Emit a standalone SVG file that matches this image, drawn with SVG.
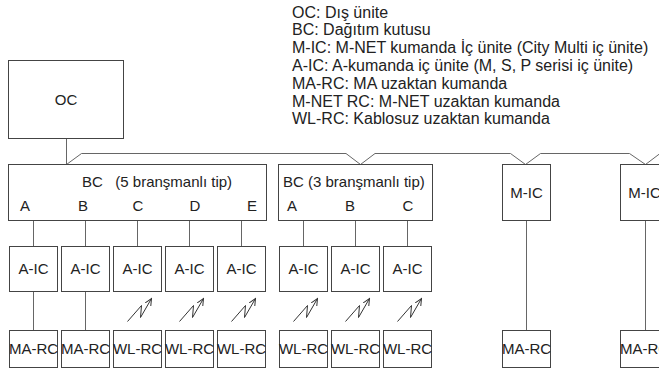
<svg xmlns="http://www.w3.org/2000/svg" xmlns:xlink="http://www.w3.org/1999/xlink" width="659" height="381" viewBox="0 0 659 381">
<style>
.box{fill:#fff;stroke:#444;stroke-width:1}
.ln{fill:none;stroke:#666;stroke-width:1}
.t{font-family:"Liberation Sans",Arial,sans-serif;font-size:15px;fill:#222}
.c{text-anchor:middle}
.lg{font-family:"Liberation Sans",Arial,sans-serif;font-size:16px;fill:#222}
.bolt{fill:none;stroke:#333;stroke-width:1}
</style>
<defs>
<marker id="ah" markerWidth="8" markerHeight="8" refX="7" refY="4" orient="auto" markerUnits="userSpaceOnUse">
<path d="M0,0.8 L7,4 L0,7.2" fill="none" stroke="#333" stroke-width="1"/>
</marker>
<path id="bolt" class="bolt" d="M-10,23 L4,7 L3,19 L14,0" marker-end="url(#ah)"/>
</defs>

<g id="legend" class="lg">
<text x="292" y="17.5">OC: Dış ünite</text>
<text x="292" y="35.3">BC: Dağıtım kutusu</text>
<text x="292" y="53.1">M-IC: M-NET kumanda İç ünite (City Multi iç ünite)</text>
<text x="292" y="70.9">A-IC: A-kumanda iç ünite (M, S, P serisi iç ünite)</text>
<text x="292" y="88.7">MA-RC: MA uzaktan kumanda</text>
<text x="292" y="106.5">M-NET RC: M-NET uzaktan kumanda</text>
<text x="292" y="124.3">WL-RC: Kablosuz uzaktan kumanda</text>
</g>

<g id="connectors">
<path class="ln" d="M66.5,138.5 V164.5"/>
<path class="ln" d="M66.5,164.5 L81.5,153.5 H346 L360.5,164.5 L375,153.5 H510.5 L525.5,164.5 L540.5,153.5 H629.5 L645.5,164.5 L660,153.5"/>
<path class="ln" d="M33.5,220.5 V246.5 M85.5,220.5 V246.5 M137.5,220.5 V246.5 M189.5,220.5 V246.5 M241.5,220.5 V246.5"/>
<path class="ln" d="M303.5,220.5 V246.5 M355.5,220.5 V246.5 M407.5,220.5 V246.5"/>
<path class="ln" d="M33.5,291.5 V330.5 M85.5,291.5 V330.5"/>
<path class="ln" d="M526.5,220.5 V330.5 M645.5,220.5 V330.5"/>
<use xlink:href="#bolt" x="137.5" y="298.5"/>
<use xlink:href="#bolt" x="189.5" y="298.5"/>
<use xlink:href="#bolt" x="241.5" y="298.5"/>
<use xlink:href="#bolt" x="303.5" y="298.5"/>
<use xlink:href="#bolt" x="355.5" y="298.5"/>
<use xlink:href="#bolt" x="407.5" y="298.5"/>
</g>

<g id="oc"><rect class="box" x="8.5" y="60.5" width="115" height="78"/><text class="t c" x="66" y="105">OC</text></g>

<g id="bc5">
<rect class="box" x="8.5" y="164.5" width="258" height="56"/>
<text class="t" x="82" y="187" xml:space="preserve">BC   (5 branşmanlı tip)</text>
<text class="t c" x="25" y="211">A</text>
<text class="t c" x="83" y="211">B</text>
<text class="t c" x="138" y="211">C</text>
<text class="t c" x="195" y="211">D</text>
<text class="t c" x="252" y="211">E</text>
</g>
<g id="bc3">
<rect class="box" x="278.5" y="164.5" width="154" height="56"/>
<text class="t" x="283" y="187">BC (3 branşmanlı tip)</text>
<text class="t c" x="292" y="211">A</text>
<text class="t c" x="350" y="211">B</text>
<text class="t c" x="408" y="211">C</text>
</g>
<g id="mic1"><rect class="box" x="502.5" y="164.5" width="48" height="56"/><text class="t c" x="526.5" y="198">M-IC</text></g>
<g id="mic2"><rect class="box" x="620.5" y="164.5" width="48" height="56"/><text class="t c" x="644.5" y="198">M-IC</text></g>

<g id="aic1"><rect class="box" x="9.5" y="246.5" width="48" height="45"/><text class="t c" x="33.5" y="274">A-IC</text></g>
<g id="aic2"><rect class="box" x="61.5" y="246.5" width="48" height="45"/><text class="t c" x="85.5" y="274">A-IC</text></g>
<g id="aic3"><rect class="box" x="113.5" y="246.5" width="48" height="45"/><text class="t c" x="137.5" y="274">A-IC</text></g>
<g id="aic4"><rect class="box" x="165.5" y="246.5" width="48" height="45"/><text class="t c" x="189.5" y="274">A-IC</text></g>
<g id="aic5"><rect class="box" x="217.5" y="246.5" width="48" height="45"/><text class="t c" x="241.5" y="274">A-IC</text></g>
<g id="aic6"><rect class="box" x="279.5" y="246.5" width="48" height="45"/><text class="t c" x="303.5" y="274">A-IC</text></g>
<g id="aic7"><rect class="box" x="331.5" y="246.5" width="48" height="45"/><text class="t c" x="355.5" y="274">A-IC</text></g>
<g id="aic8"><rect class="box" x="383.5" y="246.5" width="48" height="45"/><text class="t c" x="407.5" y="274">A-IC</text></g>

<g id="marc1"><rect class="box" x="9.5" y="330.5" width="48" height="37"/><text class="t c" x="33.5" y="354">MA-RC</text></g>
<g id="marc2"><rect class="box" x="61.5" y="330.5" width="48" height="37"/><text class="t c" x="85.5" y="354">MA-RC</text></g>
<g id="wlrc1"><rect class="box" x="113.5" y="330.5" width="48" height="37"/><text class="t c" x="137.5" y="354">WL-RC</text></g>
<g id="wlrc2"><rect class="box" x="165.5" y="330.5" width="48" height="37"/><text class="t c" x="189.5" y="354">WL-RC</text></g>
<g id="wlrc3"><rect class="box" x="217.5" y="330.5" width="48" height="37"/><text class="t c" x="241.5" y="354">WL-RC</text></g>
<g id="wlrc4"><rect class="box" x="279.5" y="330.5" width="48" height="37"/><text class="t c" x="303.5" y="354">WL-RC</text></g>
<g id="wlrc5"><rect class="box" x="331.5" y="330.5" width="48" height="37"/><text class="t c" x="355.5" y="354">WL-RC</text></g>
<g id="wlrc6"><rect class="box" x="383.5" y="330.5" width="48" height="37"/><text class="t c" x="407.5" y="354">WL-RC</text></g>
<g id="marc3"><rect class="box" x="502.5" y="330.5" width="48" height="37"/><text class="t c" x="526.5" y="354">MA-RC</text></g>
<g id="marc4"><rect class="box" x="620.5" y="330.5" width="48" height="37"/><text class="t c" x="644.5" y="354">MA-RC</text></g>
</svg>
